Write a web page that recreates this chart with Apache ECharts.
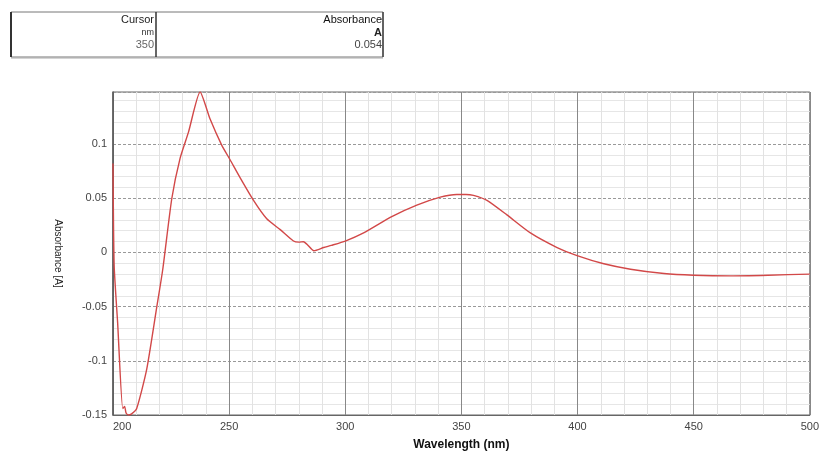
<!DOCTYPE html>
<html>
<head>
<meta charset="utf-8">
<script src="https://cdn.jsdelivr.net/npm/echarts@6/dist/echarts.min.js"></script>
<style>
  html, body { margin: 0; padding: 0; background: #fff; }
  #chart { width: 822px; height: 456px; }
</style>
</head>
<body>
<div id="chart"></div>
<script>
// UV-Vis absorbance spectrum (wavelength in nm, absorbance in A)
const wavelength = [200, 200.5, 202, 204.2, 205, 205.6, 206.5, 208, 210.2, 214.5, 218.8, 221.4,
  225.3, 228.9, 232.5, 237.5, 241.8, 246.8, 250.4, 254.7, 260.5, 266.2, 272, 277.7, 280, 282,
  283.5, 286.5, 290.7, 294, 300, 307.9, 320, 330.8, 340.9, 348, 352, 355.2, 361, 369.6, 379.7,
  391.2, 399.8, 411.3, 422.8, 437.2, 450, 466, 482, 500];
const absorbance = [0.082, -0.012, -0.065, -0.144, -0.142, -0.148, -0.150, -0.149, -0.144, -0.108, -0.051, -0.016,
  0.0495, 0.087, 0.111, 0.148, 0.123, 0.099, 0.0855, 0.069, 0.048, 0.031, 0.021, 0.0105, 0.0095, 0.0099,
  0.0075, 0.0015, 0.0045, 0.0065, 0.0105, 0.018, 0.033, 0.0436, 0.051, 0.0535, 0.0535, 0.0526, 0.048, 0.0346, 0.018,
  0.0045, -0.003, -0.0105, -0.0155, -0.0195, -0.021, -0.0216, -0.021, -0.020];

// Cursor readout table
const cursorHeader = ['Cursor', 'nm', '350'];
const valueHeader = ['Absorbance', 'A', '0.054'];

const points = wavelength.map((w, i) => [w, absorbance[i]]);

const chart = echarts.init(document.getElementById('chart'), null, { renderer: 'canvas' });

const FONT = 'Liberation Sans, Arial, sans-serif';

chart.setOption({
  animation: false,
  backgroundColor: '#fff',
  grid: {
    left: 113, right: 12, top: 92, bottom: 32,
    show: true, borderColor: '#666', borderWidth: 1, backgroundColor: 'transparent'
  },
  xAxis: {
    type: 'value',
    min: 200, max: 500, interval: 50,
    name: 'Wavelength (nm)',
    nameLocation: 'middle',
    nameGap: 24,
    nameTextStyle: { fontFamily: FONT, fontSize: 12, fontWeight: 'bold', color: '#111' },
    axisLine: { show: true, onZero: false, lineStyle: { color: '#666' } },
    axisTick: { show: false },
    axisLabel: { fontFamily: FONT, fontSize: 11, color: '#444', margin: 6, alignMinLabel: 'left' },
    splitLine: { show: true, lineStyle: { color: '#888', width: 1 } },
    minorTick: { show: false, splitNumber: 5 },
    minorSplitLine: { show: true, lineStyle: { color: '#e2e2e2', width: 1 } }
  },
  yAxis: {
    type: 'value',
    min: -0.15, max: 0.148, interval: 0.05,
    name: 'Absorbance [A]',
    nameLocation: 'middle',
    nameRotate: -90,
    nameGap: 50,
    nameTextStyle: { fontFamily: FONT, fontSize: 10, color: '#222' },
    axisLine: { show: true, lineStyle: { color: '#555', width: 1.5 } },
    axisTick: { show: false },
    axisLabel: { fontFamily: FONT, fontSize: 11, color: '#444', margin: 6, showMaxLabel: false },
    splitLine: { show: true, lineStyle: { color: '#999', width: 1, type: [3, 2] } },
    minorTick: { show: false, splitNumber: 5 },
    minorSplitLine: { show: true, lineStyle: { color: '#e6e6e6', width: 1 } }
  },
  series: [{
    type: 'line',
    data: points,
    showSymbol: false,
    smooth: 0.2,
    clip: true,
    lineStyle: { color: '#d24848', width: 1.4 }
  }],
  graphic: [
    { type: 'rect', shape: { x: 11, y: 12, width: 372, height: 45 },
      style: { fill: '#fff', stroke: '#777', lineWidth: 1 } },
    { type: 'line', shape: { x1: 11, y1: 12, x2: 11, y2: 57 }, style: { stroke: '#333', lineWidth: 2 } },
    { type: 'line', shape: { x1: 156, y1: 12, x2: 156, y2: 57 }, style: { stroke: '#333', lineWidth: 1.5 } },
    { type: 'line', shape: { x1: 383, y1: 12, x2: 383, y2: 57 }, style: { stroke: '#444', lineWidth: 1.5 } },
    { type: 'line', shape: { x1: 11, y1: 58, x2: 383, y2: 58 }, style: { stroke: '#aaa', lineWidth: 1 } },
    { type: 'text', x: 154, y: 20, style: { text: cursorHeader[0], align: 'right', verticalAlign: 'middle',
      font: '11px ' + FONT, fill: '#222' } },
    { type: 'text', x: 154, y: 33, style: { text: cursorHeader[1], align: 'right', verticalAlign: 'middle',
      font: '9px ' + FONT, fill: '#333' } },
    { type: 'text', x: 154, y: 45, style: { text: cursorHeader[2], align: 'right', verticalAlign: 'middle',
      font: '11px ' + FONT, fill: '#666' } },
    { type: 'text', x: 382, y: 20, style: { text: valueHeader[0], align: 'right', verticalAlign: 'middle',
      font: '11px ' + FONT, fill: '#111' } },
    { type: 'text', x: 382, y: 33, style: { text: valueHeader[1], align: 'right', verticalAlign: 'middle',
      font: 'bold 11px ' + FONT, fill: '#222' } },
    { type: 'text', x: 382, y: 45, style: { text: valueHeader[2], align: 'right', verticalAlign: 'middle',
      font: '11px ' + FONT, fill: '#444' } }
  ]
});
</script>
</body>
</html>
